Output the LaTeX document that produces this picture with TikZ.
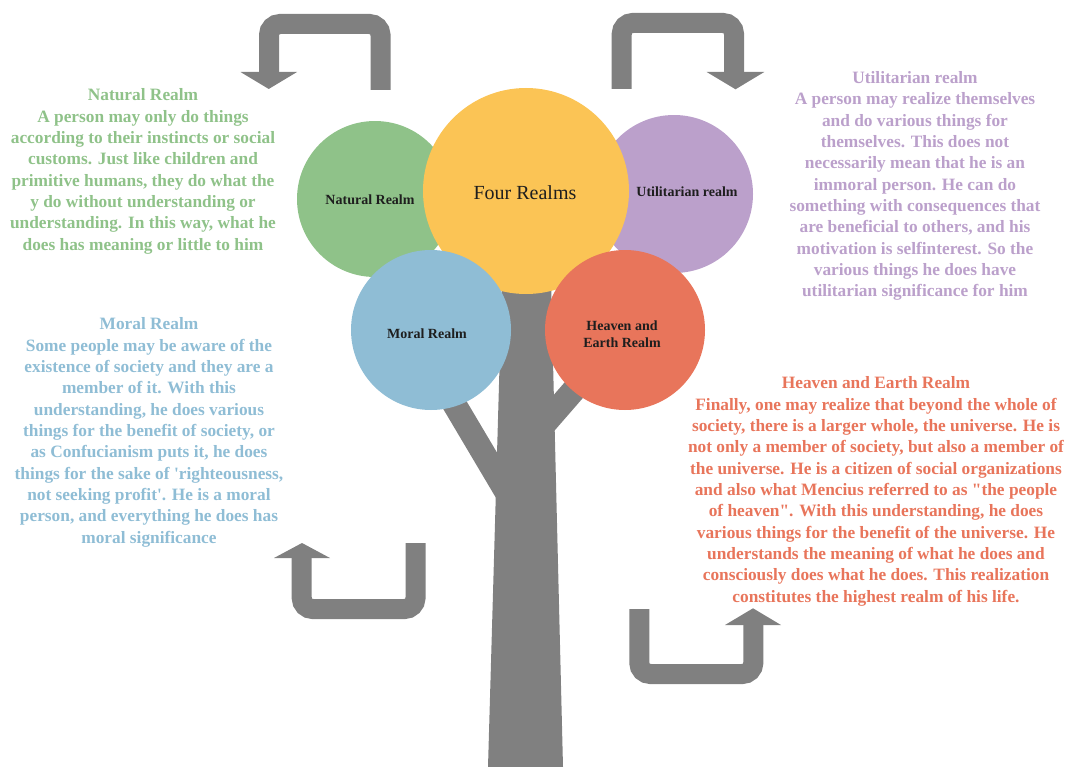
\documentclass[tikz,border=0pt]{standalone}
\usepackage{fontspec}
\setmainfont{Liberation Serif}[Ligatures=TeXOff]
\definecolor{natgreen}{RGB}{143,194,137}
\definecolor{sunyellow}{RGB}{251,196,85}
\definecolor{lilac}{RGB}{187,160,203}
\definecolor{skyblue}{RGB}{143,189,213}
\definecolor{coral}{RGB}{232,117,91}
\definecolor{bark}{RGB}{128,128,128}
\definecolor{labelink}{RGB}{30,30,30}
\begin{document}
\begin{tikzpicture}[x=0.75pt,y=-0.75pt,
  realm/.style={circle,draw=none,inner sep=0pt,minimum size=#1},
  realmlabel/.style={text=labelink,font=\fontsize{10.5}{12.75}\selectfont\bfseries,align=center,inner sep=0pt},
  blurb/.style={align=center,inner sep=0pt,font=\fontsize{13}{16}\selectfont\bfseries},
  uturn/.style={draw=bark,line width=15pt,rounded corners=8.25pt},
  uhead/.style={fill=bark}
]
\useasboundingbox (0,0) rectangle (1067,767);

% tree: branches and trunk
\draw[bark,line width=18pt] (440,380) -- (510,498);
\draw[bark,line width=18pt] (540,429) -- (600,360);
\fill[bark] (502,280) -- (551,280) -- (563,767) -- (488,767) -- cycle;

% crown of realms
\node[realm=117pt, fill=natgreen] (natC) at (375,199) {};
\node[realm=118.5pt, fill=lilac] (utiC) at (674,194) {};
\node[realm=154.5pt, fill=sunyellow] (fourC) at (526,191) {};
\node[realm=120pt, fill=skyblue] (morC) at (431,330) {};
\node[realm=120pt, fill=coral] (heaC) at (625,330) {};

\node[realmlabel] (natL) at (370,200) {Natural Realm};
\node[text=labelink,inner sep=0pt,font=\fontsize{15}{18}\selectfont] (fourL) at (525,193) {Four Realms};
\node[realmlabel] (utiL) at (687,192) {Utilitarian realm};
\node[realmlabel] (morL) at (427,334) {Moral Realm};
\node[realmlabel] (heaL) at (622,334) {Heaven and\\Earth Realm};

% descriptions
\node[blurb,text=natgreen] (natT) at (143,171.5) {Natural Realm\\
A person may only do things\\
according to their instincts or social\\
customs. Just like children and\\
primitive humans, they do what the\\
y do without understanding or\\
understanding. In this way, what he\\
does has meaning or little to him};

\node[blurb,text=lilac] (utiT) at (915,186) {Utilitarian realm\\
A person may realize themselves\\
and do various things for\\
themselves. This does not\\
necessarily mean that he is an\\
immoral person. He can do\\
something with consequences that\\
are beneficial to others, and his\\
motivation is selfinterest. So the\\
various things he does have\\
utilitarian significance for him};

\node[blurb,text=skyblue] (morT) at (149,432.5) {Moral Realm\\
Some people may be aware of the\\
existence of society and they are a\\
member of it. With this\\
understanding, he does various\\
things for the benefit of society, or\\
as Confucianism puts it, he does\\
things for the sake of 'righteousness,\\
not seeking profit'. He is a moral\\
person, and everything he does has\\
moral significance};

\node[blurb,text=coral] (heaT) at (876,491.5) {Heaven and Earth Realm\\
Finally, one may realize that beyond the whole of\\
society, there is a larger whole, the universe. He is\\
not only a member of society, but also a member of\\
the universe. He is a citizen of social organizations\\
and also what Mencius referred to as "the people\\
of heaven". With this understanding, he does\\
various things for the benefit of the universe. He\\
understands the meaning of what he does and\\
consciously does what he does. This realization\\
constitutes the highest realm of his life.};

% u-turn arrows
\draw[uturn] (380.5,90) -- (380.5,24) -- (269,24) -- (269,73);
\fill[uhead] (240.5,72) -- (297,72) -- (268.75,89) -- cycle;

\draw[uturn] (621.7,89) -- (621.7,23) -- (734,23) -- (734,73);
\fill[uhead] (706.7,72) -- (764.3,72) -- (735.5,89.3) -- cycle;

\draw[uturn] (415.5,543) -- (415.5,609) -- (301.7,609) -- (301.7,557);
\fill[uhead] (274,558) -- (330,558) -- (302,543) -- cycle;

\draw[uturn] (639.3,609) -- (639.3,674) -- (753.3,674) -- (753.3,624);
\fill[uhead] (725,625) -- (781,625) -- (753,608.3) -- cycle;
\end{tikzpicture}
\end{document}
